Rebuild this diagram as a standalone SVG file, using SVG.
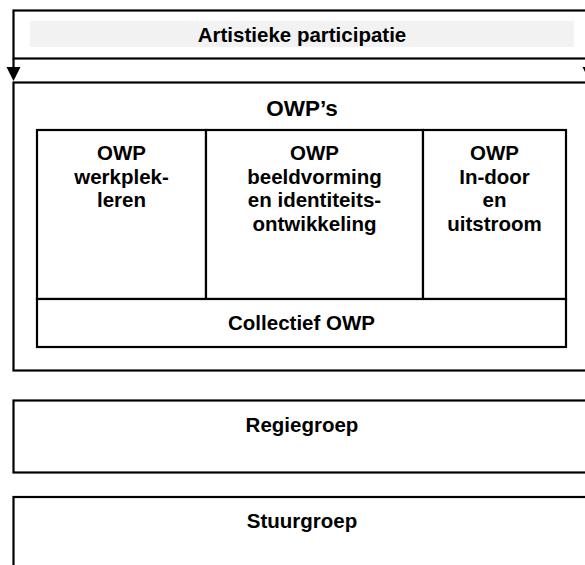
<svg xmlns="http://www.w3.org/2000/svg" width="585" height="565" viewBox="0 0 585 565">
<style>
.box{fill:#ffffff;stroke:#000000;stroke-width:2.2}
.t{font-family:"Liberation Sans",Arial,Helvetica,sans-serif;font-weight:bold;font-size:20.5px;fill:#000000;text-anchor:middle}
.big{font-size:22.5px}
.ln{stroke:#000000;stroke-width:2.2;fill:none}
</style>
<rect width="585" height="565" fill="#ffffff"/>
<g id="artistieke">
<rect class="box" x="13.5" y="10.5" width="576" height="48"/>
<rect x="30" y="21" width="544" height="26" fill="#f2f2f2"/>
<text class="t" x="302" y="41.5">Artistieke participatie</text>
</g>
<g id="connectors">
<line x1="13.5" y1="58.5" x2="13.5" y2="67" class="ln"/>
<path d="M6.5,67 L20.5,67 L13.5,81 Z" fill="#000000"/>
<line x1="589.5" y1="58.5" x2="589.5" y2="67" class="ln"/>
<path d="M582.5,67 L596.5,67 L589.5,81 Z" fill="#000000"/>
</g>
<g id="owps">
<rect class="box" x="13.5" y="82.5" width="576" height="288"/>
<text class="t big" x="302" y="116">OWP’s</text>
</g>
<g id="owp-werkplekleren">
<rect class="box" x="37" y="130" width="169" height="169"/>
<text class="t" x="121.5" y="160">OWP</text>
<text class="t" x="121.5" y="183.5">werkplek-</text>
<text class="t" x="121.5" y="207">leren</text>
</g>
<g id="owp-beeldvorming">
<rect class="box" x="206" y="130" width="217" height="169"/>
<text class="t" x="314.5" y="160">OWP</text>
<text class="t" x="314.5" y="183.5">beeldvorming</text>
<text class="t" x="314.5" y="207">en identiteits-</text>
<text class="t" x="314.5" y="230.5">ontwikkeling</text>
</g>
<g id="owp-indoor">
<rect class="box" x="423" y="130" width="143" height="169"/>
<text class="t" x="494.5" y="160">OWP</text>
<text class="t" x="494.5" y="183.5">In-door</text>
<text class="t" x="494.5" y="207">en</text>
<text class="t" x="494.5" y="230.5">uitstroom</text>
</g>
<g id="collectief">
<rect class="box" x="37" y="299" width="529" height="48"/>
<text class="t" x="301.5" y="330">Collectief OWP</text>
</g>
<g id="regiegroep">
<rect class="box" x="13.5" y="400.5" width="576" height="72"/>
<text class="t" x="302" y="431.5">Regiegroep</text>
</g>
<g id="stuurgroep">
<rect class="box" x="13.5" y="497" width="576" height="100"/>
<text class="t" x="302" y="528">Stuurgroep</text>
</g>
</svg>
